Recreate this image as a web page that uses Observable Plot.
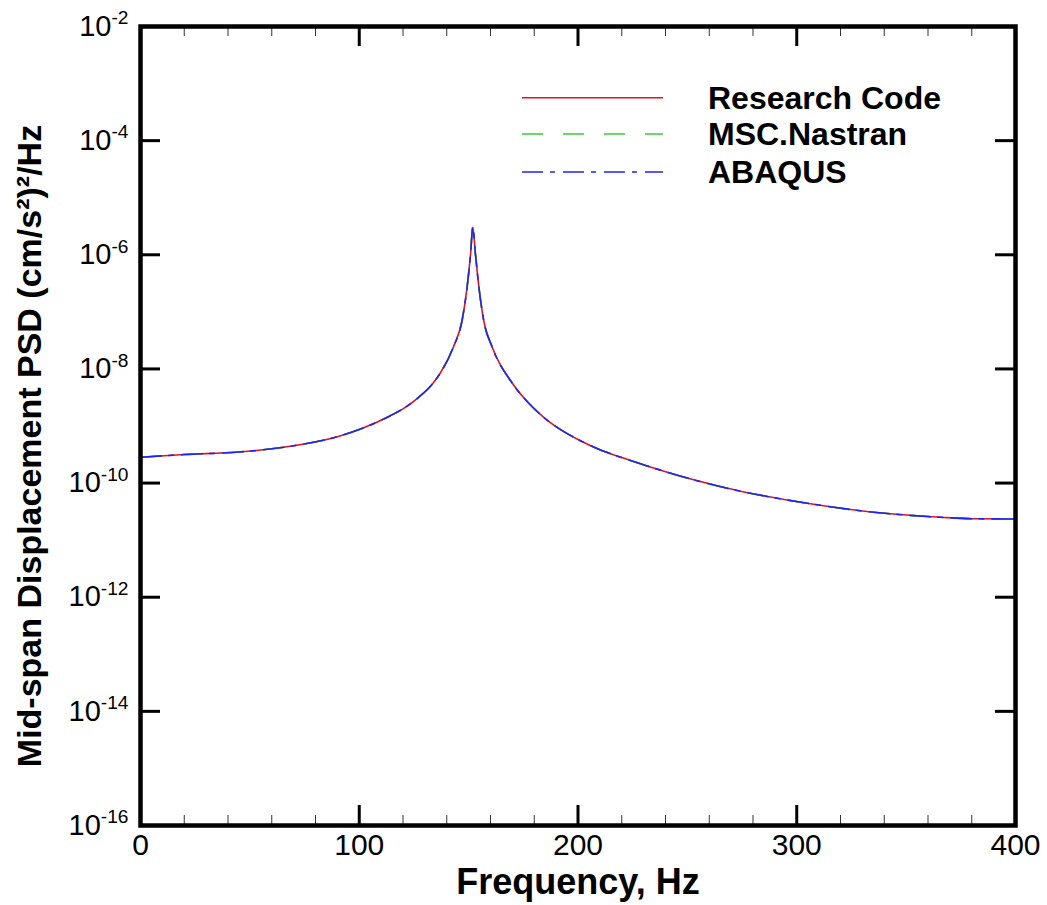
<!DOCTYPE html>
<html>
<head>
<meta charset="utf-8">
<script src="https://cdn.jsdelivr.net/npm/d3@7"></script>
<script src="https://cdn.jsdelivr.net/npm/@observablehq/plot@0.6"></script>
<style>
  html, body { margin: 0; padding: 0; background: #fff; }
  #wrap { position: relative; width: 1047px; height: 905px; font-family: "Liberation Sans", Arial, sans-serif; }
  #legend { position: absolute; left: 500px; top: 70px; }
</style>
</head>
<body>
<div id="wrap"></div>
<script>
// ---- Data ----
const freq = [0, 20, 45, 70, 90, 100, 114, 120, 127, 134, 137, 143, 147, 149.3, 150.9, 151.9, 153.1, 154.7, 156.9, 160.8, 170, 177.5, 185, 192.8, 200, 210.3, 220, 231.6, 252.9, 274.3, 304.8, 335.2, 365.7, 380.9, 400];
const researchCode = [2.84e-10, 3.16e-10, 3.5e-10, 4.5e-10, 6.5e-10, 8.7e-10, 1.5e-9, 2.0e-9, 3.15e-9, 5.8e-9, 8.4e-9, 2.4e-8, 7.05e-8, 2.7e-7, 1.04e-6, 3.04e-6, 1.04e-6, 2.7e-7, 7.05e-8, 2.4e-8, 5.6e-9, 2.5e-9, 1.35e-9, 8.3e-10, 5.8e-10, 3.8e-10, 2.8e-10, 2.0e-10, 1.14e-10, 7.2e-11, 4.44e-11, 3.08e-11, 2.52e-11, 2.37e-11, 2.35e-11];
const mscNastran = [2.84e-10, 3.16e-10, 3.5e-10, 4.5e-10, 6.5e-10, 8.7e-10, 1.5e-9, 2.0e-9, 3.15e-9, 5.8e-9, 8.4e-9, 2.4e-8, 7.05e-8, 2.7e-7, 1.04e-6, 3.04e-6, 1.04e-6, 2.7e-7, 7.05e-8, 2.4e-8, 5.6e-9, 2.5e-9, 1.35e-9, 8.3e-10, 5.8e-10, 3.8e-10, 2.8e-10, 2.0e-10, 1.14e-10, 7.2e-11, 4.44e-11, 3.08e-11, 2.52e-11, 2.37e-11, 2.35e-11];
const abaqus = [2.84e-10, 3.16e-10, 3.5e-10, 4.5e-10, 6.5e-10, 8.7e-10, 1.5e-9, 2.0e-9, 3.15e-9, 5.8e-9, 8.4e-9, 2.4e-8, 7.05e-8, 2.7e-7, 1.04e-6, 3.04e-6, 1.04e-6, 2.7e-7, 7.05e-8, 2.4e-8, 5.6e-9, 2.5e-9, 1.35e-9, 8.3e-10, 5.8e-10, 3.8e-10, 2.8e-10, 2.0e-10, 1.14e-10, 7.2e-11, 4.44e-11, 3.08e-11, 2.52e-11, 2.37e-11, 2.35e-11];

const seriesNames = ["Research Code", "MSC.Nastran", "ABAQUS"];
const seriesColors = ["#e8101a", "#3ccc3c", "#2020ff"];
const seriesDash = [null, "21,20", "21,7,5,8"];

const xMajorTicks = [0, 100, 200, 300, 400];
const xMinorTicks = [20, 40, 60, 80, 120, 140, 160, 180, 220, 240, 260, 280, 320, 340, 360, 380];
const yMajorTicks = [1e-2, 1e-4, 1e-6, 1e-8, 1e-10, 1e-12, 1e-14, 1e-16];

const xLabel = "Frequency, Hz";
const yLabel = "Mid-span Displacement PSD (cm/s\u00B2)\u00B2/Hz";

// ---- build table ----
const allValues = [researchCode, mscNastran, abaqus];
const rows = seriesNames.map((name, i) => freq.map((f, j) => ({series: name, f, v: allValues[i][j]})));

const W = 1047, H = 905;
const mL = 140, mR = 32, mT = 26, mB = 80;
const innerW = W - mL - mR, innerH = H - mT - mB;
const majLen = 20, minLen = 10;
const font = "Liberation Sans, Arial, sans-serif";

const lineMarks = rows.map((data, i) => Plot.line(data, {
  x: "f", y: "v", stroke: seriesColors[i], strokeWidth: 1.6,
  strokeDasharray: seriesDash[i] ?? undefined, curve: "monotone-x"
}));

const svg = Plot.plot({
  width: W, height: H,
  marginLeft: mL, marginRight: mR, marginTop: mT, marginBottom: mB,
  style: {fontFamily: font, background: "#fff", color: "#000"},
  x: {domain: [0, 400]},
  y: {type: "log", domain: [1e-16, 1e-2]},
  marks: [
    ...lineMarks,
    Plot.tickX(xMinorTicks, {x: d => d, stroke: "#333", strokeWidth: 1, insetTop: innerH - minLen}),
    Plot.tickX(xMinorTicks, {x: d => d, stroke: "#333", strokeWidth: 1, insetBottom: innerH - minLen}),
    Plot.tickX(xMajorTicks, {x: d => d, stroke: "#000", strokeWidth: 3, insetTop: innerH - majLen}),
    Plot.tickX(xMajorTicks, {x: d => d, stroke: "#000", strokeWidth: 3, insetBottom: innerH - majLen}),
    Plot.tickY(yMajorTicks, {y: d => d, stroke: "#000", strokeWidth: 3, insetRight: innerW - majLen}),
    Plot.tickY(yMajorTicks, {y: d => d, stroke: "#000", strokeWidth: 3, insetLeft: innerW - majLen}),
    Plot.frame({stroke: "#000", strokeWidth: 4.5}),
    Plot.axisX({ticks: xMajorTicks, tickSize: 0, tickPadding: 8, fontSize: 30, label: null, tickFormat: d => String(d)}),
    Plot.axisY({ticks: yMajorTicks, tickSize: 0, tickPadding: 12, fontSize: 29, label: null,
      tickFormat: d => "10^" + Math.round(Math.log10(d))}),
    Plot.text([xLabel], {text: d => d, frameAnchor: "bottom", textAnchor: "middle", lineAnchor: "middle", dy: 57, fontSize: 36, fontWeight: "bold", fill: "#000"}),
    Plot.text([yLabel], {text: d => d, frameAnchor: "left", textAnchor: "middle", lineAnchor: "middle", rotate: -90, dx: -110, dy: 20, fontSize: 34, fontWeight: "bold", fill: "#000"})
  ]
});

// superscript exponents in y tick labels
d3.select(svg).selectAll("text").each(function() {
  const t = this.textContent;
  if (t.startsWith("10^")) {
    const e = t.slice(3);
    const s = d3.select(this);
    s.text(null);
    s.append("tspan").text("10");
    s.append("tspan").attr("dy", "-0.6em").attr("font-size", "0.66em").text(e);
  }
});

const wrap = document.getElementById("wrap");
wrap.appendChild(svg);

// legend overlay
const leg = d3.select(wrap).append("svg").attr("id", "legend").attr("width", 500).attr("height", 130)
  .style("font-family", font);
const legY = [27.7, 64, 102];
seriesNames.forEach((name, i) => {
  leg.append("line").attr("x1", 22).attr("x2", 163).attr("y1", legY[i]).attr("y2", legY[i])
    .attr("stroke", seriesColors[i]).attr("stroke-width", 1.6)
    .attr("stroke-dasharray", seriesDash[i]);
  leg.append("text").attr("x", 208).attr("y", legY[i] + 11)
    .attr("font-size", 32).attr("font-weight", "bold").attr("fill", "#000").text(name);
});
</script>
</body>
</html>
